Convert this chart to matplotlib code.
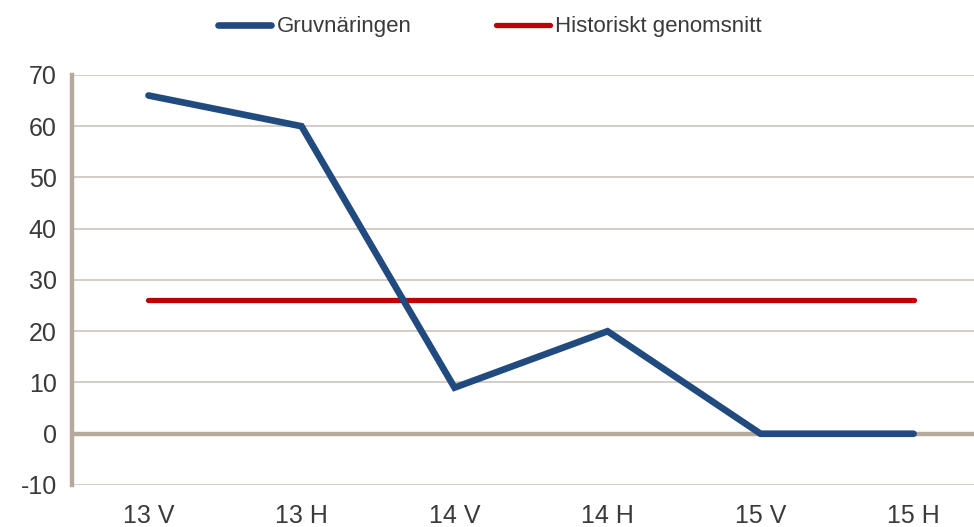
import matplotlib.pyplot as plt

# Data
perioder = ['13 V', '13 H', '14 V', '14 H', '15 V', '15 H']
gruvnaringen = [66, 60, 9, 20, 0, 0]
historiskt = [26, 26, 26, 26, 26, 26]

plt.rcParams['font.family'] = ['Liberation Sans', 'DejaVu Sans']
plt.rcParams['axes.unicode_minus'] = False

fig = plt.figure(figsize=(9.74, 5.27), dpi=100)
ax = fig.add_axes([0.0739, 0.0797, 0.9261, 0.778])

grid_col = '#C9C0B6'
axis_col = '#B5AA9C'

# gridlines
for y in range(-10, 71, 10):
    if y == 0:
        ax.axhline(y, color=axis_col, lw=3.2, zorder=1)
    else:
        ax.axhline(y, color=grid_col, lw=1.1, zorder=1)

x = range(len(perioder))
ax.plot(x, gruvnaringen, color='#214A7E', lw=4.8, solid_capstyle='round',
        solid_joinstyle='miter', label='Gruvnäringen', zorder=3)
ax.plot(x, historiskt, color='#C00000', lw=3.8, solid_capstyle='round',
        label='Historiskt genomsnitt', zorder=2)

ax.set_xlim(-0.5, 5.395)
ax.set_ylim(-10, 70)
ax.set_yticks(range(-10, 71, 10))
ax.set_xticks(list(x))
ax.set_xticklabels(perioder)

for s in ['top', 'right', 'bottom']:
    ax.spines[s].set_visible(False)
ax.spines['left'].set_color(axis_col)
ax.spines['left'].set_linewidth(3.2)

ax.tick_params(axis='both', length=0, labelsize=18, colors='#3A3A3A')
ax.tick_params(axis='y', pad=11)
ax.tick_params(axis='x', pad=14)

leg = fig.legend(loc='center', bbox_to_anchor=(0.503, 0.949), ncol=2, frameon=False,
                 fontsize=16, handlelength=2.4, handletextpad=0.25, columnspacing=3.8)
for t in leg.get_texts():
    t.set_color('#3A3A3A')

plt.savefig('out.png', dpi=100)
